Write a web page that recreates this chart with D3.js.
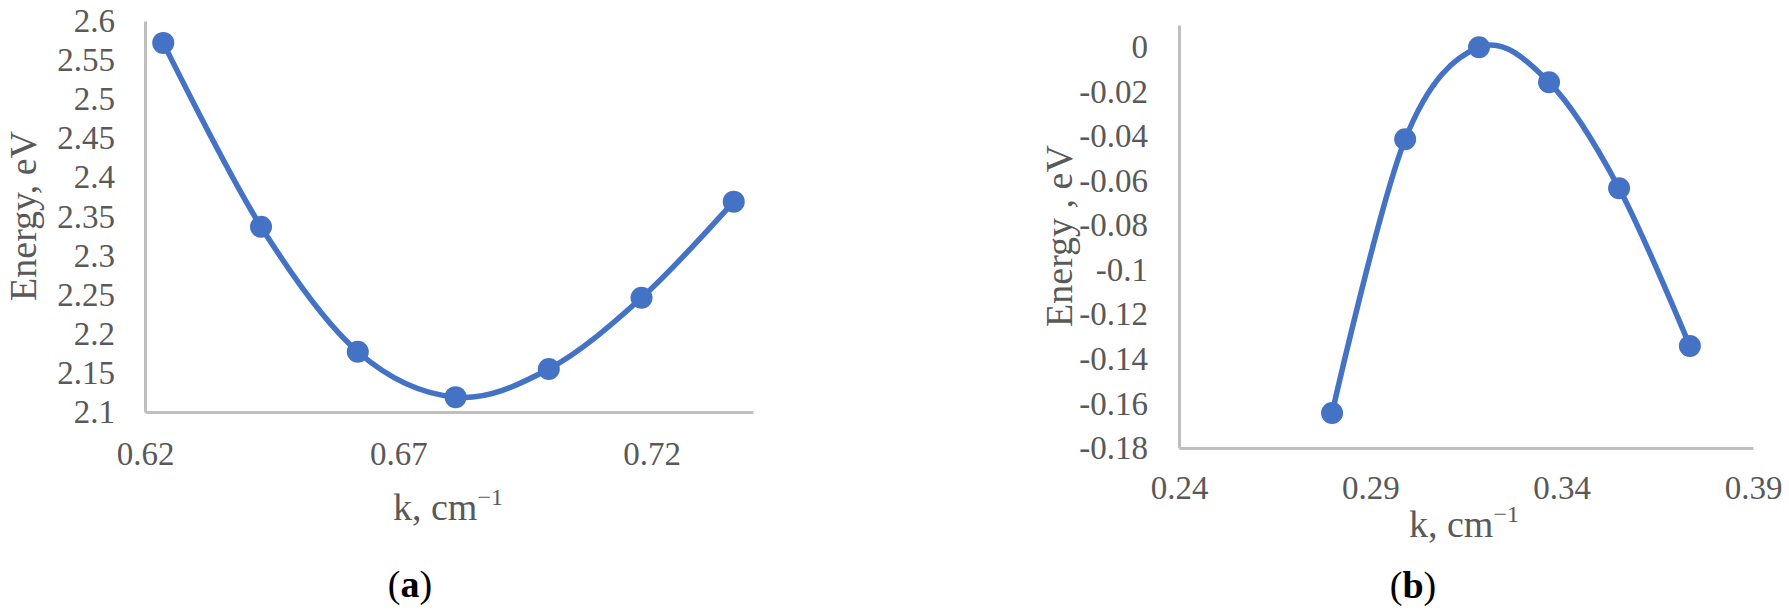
<!DOCTYPE html>
<html>
<head>
<meta charset="utf-8">
<script src="https://cdn.jsdelivr.net/npm/d3@7"></script>
<style>
  body { margin: 0; background: #fff; }
  svg text { font-family: "Liberation Serif", "Times New Roman", serif; }
</style>
</head>
<body>
<div id="plot-container"></div>
<script>
// panel (a) data
var kA = [0.6236, 0.6429, 0.6620, 0.6813, 0.6997, 0.7180, 0.7362];
var energyA = [2.572, 2.337, 2.177, 2.119, 2.155, 2.246, 2.369];
var xTicksA = [0.62, 0.67, 0.72];
var yTicksA = [2.1, 2.15, 2.2, 2.25, 2.3, 2.35, 2.4, 2.45, 2.5, 2.55, 2.6];

// panel (b) data
var kB = [0.2800, 0.2991, 0.3184, 0.3367, 0.3550, 0.3735];
var energyB = [-0.1643, -0.0413, 0.0000, -0.0157, -0.0633, -0.1342];
var xTicksB = [0.24, 0.29, 0.34, 0.39];
var yTicksB = [-0.18, -0.16, -0.14, -0.12, -0.1, -0.08, -0.06, -0.04, -0.02, 0];

var lineColor = '#4472C4';
var axisColor = '#bfbfbf';
var labelColor = '#595959';

var svg = d3.select("#plot-container")
            .append("svg")
            .attr("width", 1789)
            .attr("height", 616);

function fmt(v) {
  return String(+v.toFixed(2));
}

// draw one panel
function drawPanel(p) {
  var xScale = d3.scaleLinear().domain(p.xDomain).range(p.xRange);
  var yScale = d3.scaleLinear().domain(p.yDomain).range(p.yRange);

  var g = svg.append("g");

  var xAxis = g.append("g")
               .attr("transform", "translate(0," + p.yRange[0] + ")")
               .call(d3.axisBottom(xScale).tickValues(p.xTicks).tickFormat(fmt)
                       .tickSize(0).tickPadding(p.xPad));

  var yAxis = g.append("g")
               .attr("transform", "translate(" + p.xRange[0] + ",0)")
               .call(d3.axisLeft(yScale).tickValues(p.yTicks).tickFormat(fmt)
                       .tickSize(0).tickPadding(p.yPad));

  [xAxis, yAxis].forEach(function(a) {
    a.select(".domain").attr("stroke", axisColor).attr("stroke-width", 3);
    a.selectAll("text")
     .attr("fill", labelColor)
     .style("font-size", "33px")
     .style("font-family", "'Liberation Serif', serif");
  });

  var pts = p.k.map(function(d, i) { return [d, p.e[i]]; });

  var line = d3.line()
               .x(function(d) { return xScale(d[0]); })
               .y(function(d) { return yScale(d[1]); })
               .curve(d3.curveCardinal.tension(0));

  g.append("path")
   .attr("d", line(pts))
   .attr("fill", "none")
   .attr("stroke", lineColor)
   .attr("stroke-width", 5.5);

  g.selectAll("circle")
   .data(pts)
   .enter()
   .append("circle")
   .attr("cx", function(d) { return xScale(d[0]); })
   .attr("cy", function(d) { return yScale(d[1]); })
   .attr("r", 11)
   .attr("fill", lineColor);

  // y title
  g.append("text")
   .attr("transform", "translate(" + p.yTitlePos[0] + "," + p.yTitlePos[1] + ") rotate(-90)")
   .attr("text-anchor", "middle")
   .attr("fill", labelColor)
   .style("font-size", "38px")
   .text(p.yTitle);

  // x title with superscript
  var xt = g.append("text")
            .attr("x", p.xTitlePos[0])
            .attr("y", p.xTitlePos[1])
            .attr("text-anchor", "middle")
            .attr("fill", labelColor)
            .style("font-size", "38px");
  xt.append("tspan").text("k, cm");
  xt.append("tspan").attr("dy", -15).style("font-size", "24px").text("\u22121");

  // panel letter
  var pl = g.append("text")
            .attr("x", p.letterPos[0])
            .attr("y", p.letterPos[1])
            .attr("text-anchor", "middle")
            .attr("fill", "#000")
            .style("font-size", "38px");
  pl.append("tspan").text("(");
  pl.append("tspan").style("font-weight", "bold").text(p.letter);
  pl.append("tspan").text(")");
}

drawPanel({
  k: kA, e: energyA, xTicks: xTicksA, yTicks: yTicksA,
  xDomain: [0.62, 0.74], yDomain: [2.1, 2.6],
  xRange: [145, 753], yRange: [412, 21],
  xPad: 30, yPad: 30,
  yTitle: "Energy, eV", yTitlePos: [36, 216],
  xTitlePos: [448, 520],
  letter: "a", letterPos: [410, 597]
});

drawPanel({
  k: kB, e: energyB, xTicks: xTicksB, yTicks: yTicksB,
  xDomain: [0.24, 0.39], yDomain: [-0.18, 0.01],
  xRange: [1179, 1753], yRange: [448, 25],
  xPad: 28, yPad: 31,
  yTitle: "Energy , eV", yTitlePos: [1072, 236],
  xTitlePos: [1464, 537],
  letter: "b", letterPos: [1413, 598]
});
</script>
</body>
</html>
